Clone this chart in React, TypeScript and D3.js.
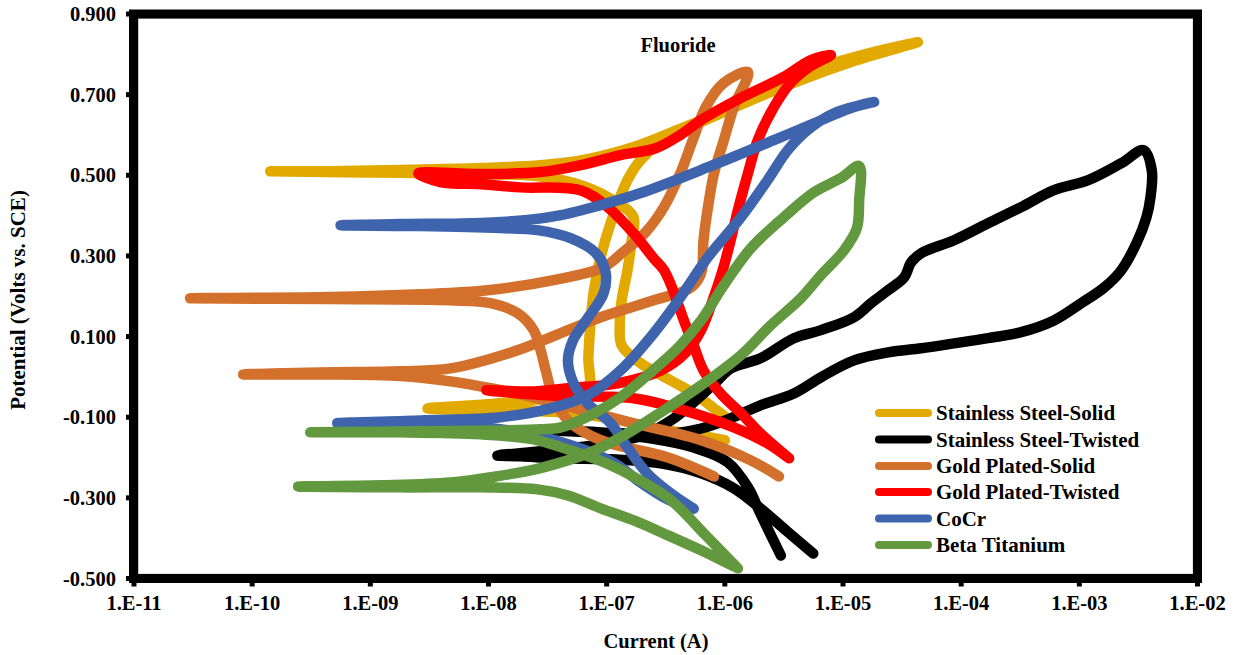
import React from "react";
import * as d3 from "d3";

type Pt = [number, number]; // [current (A), potential (V vs. SCE)]

const seriesNames = [
  "Stainless Steel-Solid",
  "Stainless Steel-Twisted",
  "Gold Plated-Solid",
  "Gold Plated-Twisted",
  "CoCr",
  "Beta Titanium",
];
const seriesColors = ["#E2AA00", "#000000", "#D2702C", "#FF0000", "#3D64AD", "#62993E"];

const xTickValues = [1e-11, 1e-10, 1e-9, 1e-8, 1e-7, 1e-6, 1e-5, 1e-4, 1e-3, 1e-2];
const xTickLabels = ["1.E-11", "1.E-10", "1.E-09", "1.E-08", "1.E-07", "1.E-06", "1.E-05", "1.E-04", "1.E-03", "1.E-02"];
const yTickValues = [-0.5, -0.3, -0.1, 0.1, 0.3, 0.5, 0.7, 0.9];
const yTickLabels = ["-0.500", "-0.300", "-0.100", "0.100", "0.300", "0.500", "0.700", "0.900"];

// Cyclic polarization scans in fluoride solution (forward, reverse, return)
const stainlessSolid: Pt[] = [
  [1.0e-6, -0.157], [5.2e-7, -0.142], [2.36e-7, -0.125], [1.08e-7, -0.103], [4.1e-8, -0.088],
  [1.26e-8, -0.083], [3.05e-9, -0.078], [9.8e-9, -0.068], [3.55e-8, -0.051], [6.9e-8, -0.033],
  [7.0e-8, 0.049], [7.3e-8, 0.133], [7.8e-8, 0.215], [8.9e-8, 0.297], [1.08e-7, 0.381],
  [1.5e-7, 0.488], [1.94e-7, 0.538], [2.87e-7, 0.582], [6.3e-7, 0.632], [1.66e-6, 0.686],
  [4.4e-6, 0.736], [1.17e-5, 0.781], [4.3e-5, 0.83],
  [8.4e-6, 0.778], [3.16e-6, 0.721], [1.19e-6, 0.669], [4.5e-7, 0.619], [1.69e-7, 0.57],
  [6.4e-8, 0.538], [2.76e-8, 0.525], [8.6e-9, 0.518], [1.8e-9, 0.513], [4.6e-10, 0.51],
  [1.42e-10, 0.51],
  [1.8e-9, 0.506], [8.6e-9, 0.503], [2.76e-8, 0.497], [6.4e-8, 0.473], [1.24e-7, 0.431],
  [1.69e-7, 0.396], [1.63e-7, 0.339], [1.5e-7, 0.265], [1.34e-7, 0.19], [1.29e-7, 0.128],
  [1.34e-7, 0.078], [1.94e-7, 0.034], [3.5e-7, -0.009], [5.45e-7, -0.041], [8.1e-7, -0.078],
  [1.02e-6, -0.1],
];

const stainlessTwisted: Pt[] = [
  [5.6e-6, -0.438], [3.3e-6, -0.381], [2.0e-6, -0.326], [1.19e-6, -0.276], [6.3e-7, -0.239],
  [2.87e-7, -0.2145], [1.08e-7, -0.2045], [4.1e-8, -0.202], [1.87e-8, -0.197], [1.19e-8, -0.195],
  [2.27e-8, -0.187], [4.1e-8, -0.18], [8.9e-8, -0.167], [1.94e-7, -0.147], [3.5e-7, -0.108],
  [5.45e-7, -0.063], [8.4e-7, -0.013], [1.12e-6, 0.021], [2.0e-6, 0.046], [3.84e-6, 0.096],
  [6.5e-6, 0.116], [1.24e-5, 0.148], [1.73e-5, 0.183], [2.41e-5, 0.215], [3.3e-5, 0.247],
  [3.77e-5, 0.284], [4.6e-5, 0.307], [8.7e-5, 0.339], [1.69e-4, 0.381], [3.22e-4, 0.421],
  [6.1e-4, 0.463], [1.19e-3, 0.488], [2.27e-3, 0.53], [3.5e-3, 0.562],
  [4.1e-3, 0.513], [4.0e-3, 0.446], [3.7e-3, 0.396], [3.05e-3, 0.332], [2.27e-3, 0.265],
  [1.63e-3, 0.222], [1.04e-3, 0.183], [6.1e-4, 0.14], [3.22e-4, 0.111], [1.69e-4, 0.096],
  [8.7e-5, 0.083], [4.6e-5, 0.071], [2.41e-5, 0.061], [1.24e-5, 0.041], [6.5e-6, -0.001],
  [3.84e-6, -0.041], [2.0e-6, -0.0705], [1.12e-6, -0.103], [6.3e-7, -0.128], [2.87e-7, -0.1425],
  [1.31e-7, -0.14], [6.0e-8, -0.135], [3.7e-8, -0.133],
  [8.9e-8, -0.14], [2.06e-7, -0.15], [5.45e-7, -0.175], [1.06e-6, -0.212], [1.57e-6, -0.274],
  [2.0e-6, -0.339], [2.98e-6, -0.443],
];

const goldSolid: Pt[] = [
  [2.87e-6, -0.247], [1.66e-6, -0.207], [6.3e-7, -0.157], [1.69e-7, -0.115], [6.4e-8, -0.083],
  [2.41e-8, -0.051], [1.04e-8, -0.028], [4.77e-9, -0.011], [1.8e-9, 0.002], [3.8e-10, 0.006],
  [8.4e-11, 0.006],
  [3.8e-10, 0.011], [1.8e-9, 0.014], [4.77e-9, 0.021], [1.76e-8, 0.066], [4.7e-8, 0.116],
  [8.9e-8, 0.148], [2.5e-7, 0.19], [5.2e-7, 0.222], [6.3e-7, 0.257], [6.6e-7, 0.339],
  [7.2e-7, 0.421], [8.1e-7, 0.505], [9.8e-7, 0.587], [1.19e-6, 0.669], [1.57e-6, 0.756],
  [9.8e-7, 0.729], [6.9e-7, 0.669], [5.35e-7, 0.587], [4.2e-7, 0.505], [3.05e-7, 0.421],
  [2.14e-7, 0.359], [1.37e-7, 0.309], [9.4e-8, 0.272], [3.55e-8, 0.24], [9.8e-9, 0.215],
  [2.65e-9, 0.205], [4.6e-10, 0.198], [2.98e-11, 0.195],
  [4.6e-10, 0.193], [4.77e-9, 0.19], [1.04e-8, 0.183], [1.76e-8, 0.158], [2.41e-8, 0.116],
  [2.76e-8, 0.066], [3.05e-8, 0.016], [3.55e-8, -0.051], [4.7e-8, -0.108], [8.9e-8, -0.157],
  [3.3e-7, -0.2], [8.1e-7, -0.247],
];

const goldTwisted: Pt[] = [
  [3.5e-6, -0.202], [2.3e-6, -0.165], [1.19e-6, -0.125], [4.5e-7, -0.083], [1.69e-7, -0.053],
  [4.7e-8, -0.048], [1.87e-8, -0.041], [9.6e-9, -0.033],
  [2.41e-8, -0.036], [4.7e-8, -0.028], [1.24e-7, -0.016], [2.87e-7, 0.016], [4.7e-7, 0.061],
  [6.3e-7, 0.116], [7.9e-7, 0.19], [9.6e-7, 0.265], [1.12e-6, 0.339], [1.31e-6, 0.421],
  [1.57e-6, 0.505], [1.9e-6, 0.587], [2.6e-6, 0.669], [3.6e-6, 0.729], [5.35e-6, 0.771],
  [7.9e-6, 0.798],
  [5.35e-6, 0.786], [3.16e-6, 0.744], [1.37e-6, 0.692], [6.3e-7, 0.637], [4.2e-7, 0.6],
  [2.6e-7, 0.567], [1.31e-7, 0.55], [6.0e-8, 0.525], [2.76e-8, 0.508], [8.6e-9, 0.503],
  [2.55e-9, 0.505],
  [3.9e-9, 0.483], [8.6e-9, 0.478], [1.87e-8, 0.47], [6.0e-8, 0.463], [1.02e-7, 0.421],
  [1.69e-7, 0.356], [2.5e-7, 0.294], [3.05e-7, 0.265], [3.7e-7, 0.21], [4.5e-7, 0.14],
  [5.45e-7, 0.078], [6.6e-7, 0.016], [9.2e-7, -0.041], [1.37e-6, -0.09], [2.0e-6, -0.14],
  [3.5e-6, -0.202],
];

const coCr: Pt[] = [
  [5.45e-7, -0.327], [3.3e-7, -0.304], [1.94e-7, -0.262], [1.24e-7, -0.219], [8.4e-8, -0.194],
  [4.7e-8, -0.167], [2.14e-8, -0.14], [8.6e-9, -0.125], [2.65e-9, -0.118], [5.25e-10, -0.115],
  [2.65e-9, -0.108], [1.26e-8, -0.1], [3.35e-8, -0.078], [6.9e-8, -0.046], [1.31e-7, 0.016],
  [2.5e-7, 0.108], [4.2e-7, 0.197], [7.2e-7, 0.297], [1.37e-6, 0.396], [2.3e-6, 0.488],
  [3.4e-6, 0.562], [5.0e-6, 0.612], [8.4e-6, 0.654], [1.83e-5, 0.682],
  [1.17e-5, 0.667], [5.0e-6, 0.622], [2.6e-6, 0.587], [7.2e-7, 0.52], [1.94e-7, 0.456],
  [8.9e-8, 0.426], [4.1e-8, 0.401], [2.14e-8, 0.389], [7.0e-9, 0.381], [1.8e-9, 0.379],
  [5.6e-10, 0.376],
  [2.65e-9, 0.374], [1.26e-8, 0.369], [2.6e-8, 0.364], [4.95e-8, 0.344], [8.1e-8, 0.307],
  [9.8e-8, 0.259], [9.4e-8, 0.207], [7.0e-8, 0.148], [5.2e-8, 0.091], [4.7e-8, 0.041],
  [5.25e-8, -0.016], [6.9e-8, -0.066], [1.08e-7, -0.115], [1.5e-7, -0.175], [2.2e-7, -0.239],
  [3.5e-7, -0.289], [5.45e-7, -0.327],
];

const betaTitanium: Pt[] = [
  [1.29e-6, -0.475], [6.9e-7, -0.393], [3.5e-7, -0.306], [1.8e-7, -0.252], [1.0e-7, -0.2145],
  [4.9e-8, -0.182], [2.4e-8, -0.155], [8.6e-9, -0.1425], [1.8e-9, -0.1375], [3.1e-10, -0.1375],
  [2.65e-9, -0.135], [1.26e-8, -0.133], [2.8e-8, -0.13], [4.1e-8, -0.125], [7.3e-8, -0.095],
  [1.3e-7, -0.051], [2.36e-7, 0.011], [4.2e-7, 0.078], [6.3e-7, 0.14], [9.8e-7, 0.227],
  [1.66e-6, 0.319], [3.16e-6, 0.396], [5.7e-6, 0.458], [9.6e-6, 0.493], [1.37e-5, 0.523],
  [1.37e-5, 0.438], [1.31e-5, 0.369], [1.02e-5, 0.314], [6.5e-6, 0.252], [4.4e-6, 0.195],
  [2.45e-6, 0.128], [1.37e-6, 0.054], [6.3e-7, -0.021], [2.87e-7, -0.088], [1.31e-7, -0.15],
  [7.3e-8, -0.187], [4.1e-8, -0.212], [2.27e-8, -0.232], [1.15e-8, -0.247], [4.8e-9, -0.262],
  [1.22e-9, -0.269], [2.45e-10, -0.272],
  [1.8e-9, -0.274], [8.6e-9, -0.274], [2.6e-8, -0.279], [4.7e-8, -0.294], [8.9e-8, -0.326],
  [1.7e-7, -0.356], [3.3e-7, -0.393], [6.3e-7, -0.43], [1.19e-6, -0.47],
];

const seriesData: Pt[][] = [stainlessSolid, stainlessTwisted, goldSolid, goldTwisted, coCr, betaTitanium];

const W = 1233;
const H = 655;
const plot = { left: 134, right: 1197.5, top: 14, bottom: 578.5 };
const FONT = "'Liberation Serif', 'Times New Roman', serif";

export default function App() {
  const x = d3.scaleLog().domain([1e-11, 1e-2]).range([plot.left, plot.right]);
  const y = d3.scaleLinear().domain([-0.5, 0.9]).range([plot.bottom, plot.top]);
  const line = d3
    .line<Pt>()
    .x((d) => x(d[0]))
    .y((d) => y(d[1]))
    .curve(d3.curveCatmullRom.alpha(0.5));

  const legendY = [413, 439.5, 466, 492, 518.5, 545];

  return (
    <svg
      width={W}
      height={H}
      viewBox={`0 0 ${W} ${H}`}
      style={{ position: "absolute", left: 0, top: 0, background: "#fff" }}
      fontFamily={FONT}
      fontWeight="bold"
    >
      <rect x={0} y={0} width={W} height={H} fill="#fff" />
      <defs>
        <clipPath id="plot-clip">
          <rect x={plot.left} y={plot.top} width={plot.right - plot.left} height={plot.bottom - plot.top} />
        </clipPath>
      </defs>

      <g clipPath="url(#plot-clip)">
        {seriesData.map((data, i) => (
          <path
            key={seriesNames[i]}
            d={line(data) ?? ""}
            fill="none"
            stroke={seriesColors[i]}
            strokeWidth={10.5}
            strokeLinecap="round"
            strokeLinejoin="round"
          />
        ))}
      </g>

      {/* inner plot-area edge */}
      <rect
        x={plot.left + 4.5}
        y={plot.top + 4.5}
        width={plot.right - plot.left - 9}
        height={plot.bottom - plot.top - 9}
        fill="none"
        stroke="#c8c8c8"
        strokeWidth={1}
      />
      {/* heavy frame */}
      <rect
        x={plot.left - 0.5}
        y={plot.top}
        width={plot.right - plot.left + 0.5}
        height={plot.bottom - plot.top}
        fill="none"
        stroke="#000"
        strokeWidth={9}
      />

      {/* y ticks and labels */}
      {yTickValues.map((v, i) => (
        <g key={`y${v}`}>
          <line x1={plot.left - 8} x2={plot.left} y1={y(v)} y2={y(v)} stroke="#000" strokeWidth={5} />
          <text x={116} y={y(v)} dy="0.35em" textAnchor="end" fontSize={20.5}>
            {yTickLabels[i]}
          </text>
        </g>
      ))}

      {/* x ticks and labels */}
      {xTickValues.map((v, i) => (
        <g key={`x${v}`}>
          <line x1={x(v)} x2={x(v)} y1={plot.bottom} y2={plot.bottom + 8} stroke="#000" strokeWidth={5} />
          <text x={x(v)} y={610} textAnchor="middle" fontSize={20.5}>
            {xTickLabels[i]}
          </text>
        </g>
      ))}

      {/* titles */}
      <text x={678} y={52} textAnchor="middle" fontSize={20.5}>
        Fluoride
      </text>
      <text x={656} y={648} textAnchor="middle" fontSize={20.5}>
        Current (A)
      </text>
      <text transform="translate(25,300) rotate(-90)" textAnchor="middle" fontSize={21}>
        Potential (Volts vs. SCE)
      </text>

      {/* legend */}
      {seriesNames.map((name, i) => (
        <g key={`lg${name}`}>
          <line
            x1={879}
            x2={928}
            y1={legendY[i]}
            y2={legendY[i]}
            stroke={seriesColors[i]}
            strokeWidth={8}
            strokeLinecap="round"
          />
          <text x={936} y={legendY[i]} dy="0.35em" fontSize={21}>
            {name}
          </text>
        </g>
      ))}
    </svg>
  );
}
